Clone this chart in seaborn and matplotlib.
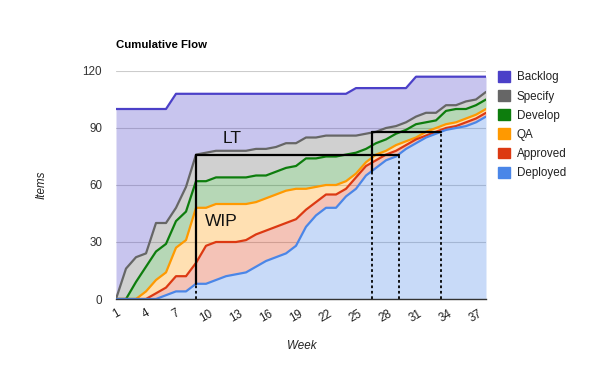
import numpy as np
import matplotlib
matplotlib.use("Agg")
import matplotlib.pyplot as plt
from matplotlib.patches import Patch
import seaborn as sns

# Cumulative counts per week
weeks = list(range(1, 39))
backlog = [100, 100, 100, 100, 100, 100, 108, 108, 108, 108, 108, 108, 108, 108,
           108, 108, 108, 108, 108, 108, 108, 108, 108, 108, 111, 111, 111, 111,
           111, 111, 117, 117, 117, 117, 117, 117, 117, 117]
specify = [0, 16, 22, 24, 40, 40, 48, 59, 76, 77, 78, 78, 78, 78, 79, 79, 80, 82,
           82, 85, 85, 86, 86, 86, 86, 87, 88, 90, 91, 93, 96, 98, 98, 102, 102,
           104, 105, 109]
develop = [0, 0, 9, 17, 25, 29, 41, 46, 62, 62, 64, 64, 64, 64, 65, 65, 67, 69,
           70, 74, 74, 75, 75, 76, 77, 79, 82, 84, 87, 89, 92, 93, 94, 99, 100,
           100, 102, 105]
qa = [0, 0, 0, 4, 10, 14, 27, 31, 48, 48, 50, 50, 50, 50, 51, 53, 55, 57, 58, 58,
      59, 60, 60, 62, 66, 72, 76, 78, 81, 83, 85, 88, 90, 92, 93, 95, 97, 100]
approved = [0, 0, 0, 0, 3, 6, 12, 12, 19, 28, 30, 30, 30, 31, 34, 36, 38, 40, 42,
            47, 51, 55, 55, 58, 64, 70, 73, 76, 78, 81, 84, 86, 88, 90, 91, 93,
            95, 98]
deployed = [0, 0, 0, 0, 0, 2, 4, 4, 8, 8, 10, 12, 13, 14, 17, 20, 22, 24, 28, 38,
            44, 48, 48, 54, 58, 65, 69, 73, 75, 79, 82, 85, 87, 89, 90, 91, 93, 96]

stages = ["Backlog", "Specify", "Develop", "QA", "Approved", "Deployed"]
series = [backlog, specify, develop, qa, approved, deployed]
colors = ["#4b40c8", "#666666", "#0d7d0d", "#ff9900", "#dc3912", "#4a86e8"]

# lead time / WIP markers: (start week, level)
markers = [(9, 76), (26.6, 88)]

sns.set_theme(style="white")
plt.rcParams["font.family"] = ["Liberation Sans", "DejaVu Sans"]

fig = plt.figure(figsize=(6, 3.71), dpi=100)
ax = fig.add_axes([116 / 600, 1 - 299 / 371, 370 / 600, 228 / 371])

# stacked bands between neighbouring cumulative lines
for i, (vals, c) in enumerate(zip(series, colors)):
    lower = series[i + 1] if i + 1 < len(series) else [0] * len(weeks)
    ax.fill_between(weeks, lower, vals, color=c, alpha=0.3, lw=0)

for vals, c in zip(series, colors):
    sns.lineplot(x=weeks, y=vals, color=c, lw=1.6, ax=ax, legend=False)

# annotation boxes
dep = np.array(deployed, dtype=float)
wk = np.array(weeks, dtype=float)
for start, level in markers:
    bottom = np.interp(start, wk, dep)
    end = np.interp(level, dep, wk)
    ax.plot([start, start], [bottom, level], color="black", lw=1.6)
    ax.plot([start, end], [level, level], color="black", lw=1.6)
    ax.plot([start, start], [0, bottom], color="black", lw=1.3, ls=(0, (1.5, 1.5)))
    ax.plot([end, end], [0, level], color="black", lw=1.3, ls=(0, (1.5, 1.5)))

ax.text(12.6, 84.7, "LT", fontsize=12.5, ha="center", va="center", color="#111111")
ax.text(11.55, 41, "WIP", fontsize=12.5, ha="center", va="center", color="#111111")

ax.set_xlim(1, 38)
ax.set_ylim(0, 120)
ax.set_xticks(list(range(1, 38, 3)))
ax.set_xticklabels([str(w) for w in range(1, 38, 3)], rotation=30, ha="center")
ax.set_yticks([0, 30, 60, 90, 120])
ax.tick_params(axis="x", length=0, pad=6, labelsize=8.4, labelcolor="#222222")
ax.tick_params(axis="y", length=0, pad=10, labelsize=8.4, labelcolor="#333333")
ax.set_xlabel("")
ax.set_ylabel("")
ax.grid(axis="y", color="#cccccc", lw=0.8)
ax.set_axisbelow(True)
for s in ["top", "right", "left"]:
    ax.spines[s].set_visible(False)
ax.spines["bottom"].set_color("#333333")
ax.spines["bottom"].set_linewidth(1.0)
ax.spines["bottom"].set_zorder(5)

fig.text(116 / 600, 1 - 45 / 371, "Cumulative Flow", fontsize=8.2, fontweight="bold",
         ha="left", va="center", color="#000000")
fig.text(302 / 600, 1 - 346 / 371, "Week", fontsize=8.4, style="italic",
         ha="center", va="center", color="#222222")
fig.text(42 / 600, 1 - 185 / 371, "Items", fontsize=8.4, style="italic", rotation=90,
         ha="center", va="center", color="#222222")

handles = [Patch(facecolor=c, edgecolor=c) for c in colors]
fig.legend(handles, stages, loc="upper left", bbox_to_anchor=(498 / 600, 1 - 71 / 371),
           frameon=False, fontsize=8.4, handlelength=1.05, handleheight=1.05,
           handletextpad=0.55, labelspacing=0.58, borderpad=0, borderaxespad=0,
           labelcolor="#222222")

fig.savefig("out.png", dpi=100)
